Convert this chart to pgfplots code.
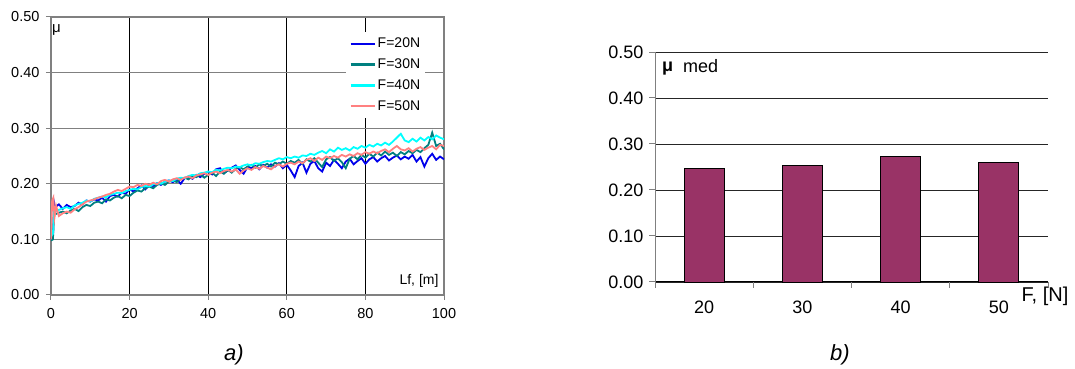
\documentclass[border=0pt]{standalone}
\usepackage{pgfplots}
\pgfplotsset{compat=1.18}
\usepackage{pgfplotstable}
\usepackage{fontspec}
\setmainfont{Liberation Sans}
\definecolor{cblue}{RGB}{0,0,235}
\definecolor{cteal}{RGB}{0,128,128}
\definecolor{ccyan}{RGB}{0,255,255}
\definecolor{cpink}{RGB}{255,128,128}
\definecolor{cbar}{RGB}{153,51,102}
\definecolor{cgrid}{RGB}{128,128,128}

\pgfplotstableread{
x y
0 0.100
0.5 0.105
0.8 0.165
1 0.158
2 0.163
3 0.155
4 0.162
5 0.158
6 0.160
7 0.166
8 0.163
9 0.170
10 0.168
11 0.172
12 0.170
13 0.175
14 0.168
15 0.178
16 0.180
17 0.177
18 0.184
19 0.182
20 0.190
21 0.186
22 0.192
23 0.197
24 0.190
25 0.198
26 0.196
27 0.201
28 0.198
29 0.204
30 0.206
31 0.203
32 0.208
33 0.200
34 0.210
35 0.213
36 0.209
37 0.216
38 0.212
39 0.218
40 0.222
41 0.217
42 0.226
43 0.228
44 0.219
45 0.224
46 0.229
47 0.233
48 0.225
49 0.218
50 0.230
51 0.228
52 0.232
53 0.226
54 0.234
55 0.229
56 0.235
57 0.231
58 0.237
59 0.228
60 0.234
61 0.224
62 0.212
63 0.232
64 0.238
65 0.220
66 0.236
67 0.241
68 0.228
69 0.222
70 0.238
71 0.232
72 0.243
73 0.236
74 0.228
75 0.240
76 0.245
77 0.235
78 0.241
79 0.246
80 0.236
81 0.244
82 0.248
83 0.240
84 0.246
85 0.250
86 0.242
87 0.247
88 0.251
89 0.244
90 0.249
91 0.245
92 0.252
93 0.240
94 0.248
95 0.231
96 0.246
97 0.254
98 0.243
99 0.249
100 0.244
}\tblA

\pgfplotstableread{
x y
0 0.098
0.5 0.100
0.8 0.150
1 0.145
2 0.148
3 0.150
4 0.147
5 0.152
6 0.155
7 0.151
8 0.158
9 0.162
10 0.160
11 0.166
12 0.168
13 0.165
14 0.172
15 0.170
16 0.175
17 0.178
18 0.174
19 0.180
20 0.178
21 0.184
22 0.188
23 0.186
24 0.192
25 0.195
26 0.192
27 0.198
28 0.201
29 0.198
30 0.204
31 0.206
32 0.203
33 0.209
34 0.211
35 0.208
36 0.214
37 0.212
38 0.217
39 0.211
40 0.216
41 0.220
42 0.214
43 0.222
44 0.218
45 0.225
46 0.220
47 0.227
48 0.230
49 0.226
50 0.231
51 0.234
52 0.229
53 0.235
54 0.232
55 0.236
56 0.231
57 0.238
58 0.235
59 0.240
60 0.236
61 0.241
62 0.238
63 0.243
64 0.236
65 0.244
66 0.240
67 0.246
68 0.238
69 0.230
70 0.244
71 0.248
72 0.241
73 0.246
74 0.239
75 0.228
76 0.245
77 0.250
78 0.244
79 0.252
80 0.247
81 0.254
82 0.249
83 0.256
84 0.251
85 0.258
86 0.252
87 0.256
88 0.250
89 0.257
90 0.253
91 0.259
92 0.255
93 0.261
94 0.257
95 0.264
96 0.270
97 0.292
98 0.268
99 0.272
100 0.262
}\tblB

\pgfplotstableread{
x y
0 0.105
0.5 0.110
0.8 0.155
1 0.150
2 0.153
3 0.156
4 0.158
5 0.155
6 0.161
7 0.164
8 0.166
9 0.170
10 0.168
11 0.173
12 0.175
13 0.177
14 0.176
15 0.180
16 0.182
17 0.184
18 0.183
19 0.187
20 0.189
21 0.191
22 0.190
23 0.194
24 0.196
25 0.195
26 0.199
27 0.201
28 0.200
29 0.204
30 0.206
31 0.205
32 0.209
33 0.211
34 0.210
35 0.214
36 0.216
37 0.215
38 0.219
39 0.220
40 0.222
41 0.221
42 0.225
43 0.224
44 0.227
45 0.229
46 0.228
47 0.231
48 0.230
49 0.233
50 0.235
51 0.233
52 0.237
53 0.236
54 0.239
55 0.241
56 0.240
57 0.243
58 0.246
59 0.244
60 0.248
61 0.246
62 0.249
63 0.247
64 0.251
65 0.250
66 0.254
67 0.252
68 0.256
69 0.259
70 0.255
71 0.262
72 0.258
73 0.265
74 0.261
75 0.264
76 0.260
77 0.266
78 0.263
79 0.268
80 0.265
81 0.270
82 0.267
83 0.272
84 0.269
85 0.274
86 0.270
87 0.276
88 0.283
89 0.290
90 0.278
91 0.275
92 0.281
93 0.276
94 0.283
95 0.278
96 0.284
97 0.280
98 0.287
99 0.283
100 0.280
}\tblC

\pgfplotstableread{
x y
0 0.100
0.3 0.170
0.6 0.175
0.9 0.140
1.3 0.160
2 0.142
3 0.147
4 0.150
5 0.148
6 0.154
7 0.158
8 0.163
9 0.168
10 0.170
11 0.172
12 0.175
13 0.177
14 0.180
15 0.182
16 0.186
17 0.189
18 0.187
19 0.191
20 0.195
21 0.194
22 0.198
23 0.196
24 0.200
25 0.198
26 0.202
27 0.199
28 0.205
29 0.207
30 0.204
31 0.208
32 0.210
33 0.207
34 0.211
35 0.213
36 0.210
37 0.215
38 0.217
39 0.219
40 0.216
41 0.220
42 0.222
43 0.219
44 0.223
45 0.225
46 0.222
47 0.226
48 0.218
49 0.224
50 0.228
51 0.225
52 0.230
53 0.227
54 0.232
55 0.229
56 0.226
57 0.232
58 0.235
59 0.231
60 0.236
61 0.238
62 0.235
63 0.240
64 0.237
65 0.243
66 0.246
67 0.241
68 0.247
69 0.243
70 0.249
71 0.246
72 0.250
73 0.247
74 0.252
75 0.249
76 0.253
77 0.250
78 0.255
79 0.252
80 0.257
81 0.254
82 0.258
83 0.255
84 0.259
85 0.262
86 0.257
87 0.263
88 0.268
89 0.262
90 0.260
91 0.264
92 0.258
93 0.263
94 0.266
95 0.261
96 0.265
97 0.268
98 0.262
99 0.270
100 0.268
}\tblD

\pgfplotstableread{
x y
0.5 0.246
1.5 0.253
2.5 0.272
3.5 0.259
}\tblBar

\begin{document}
\begin{tikzpicture}
\path[use as bounding box] (0pt,0pt) rectangle (1075pt,369pt);

% ---------- a) ----------
\begin{axis}[
  at={(51pt,74pt)}, anchor=south west,
  scale only axis, width=393pt, height=278pt,
  xmin=0, xmax=100, ymin=0, ymax=0.5,
  xtick={0,20,...,100}, ytick={0,0.1,...,0.5},
  /pgf/number format/assume math mode=true,
  ticklabel style={font=\fontsize{14.5}{16}\selectfont},
  yticklabel style={xshift=-3pt, /pgf/number format/.cd, fixed, fixed zerofill, precision=2},
  xticklabel style={yshift=-5pt},
  tick align=outside, tick pos=left, major tick length=5pt,
  tick style={cgrid, line width=1pt},
  axis line style={cgrid, line width=1.2pt},
  ymajorgrids, xmajorgrids,
  y grid style={cgrid, line width=1.3pt},
  x grid style={black, line width=0.9pt},
  legend style={draw=none, fill=white, at={(0.751,0.946)}, anchor=north west,
    font=\fontsize{14}{16}\selectfont, row sep=5.5pt, inner xsep=3pt, inner ysep=4pt,
    legend cell align=left},
  legend image code/.code={\draw[#1, line width=2.4pt] (0pt,0pt) -- (24pt,0pt);},
  clip=true,
]
\addplot[cblue, line width=1.8pt] table {\tblA};
\addlegendentry{F=20N}
\addplot[cteal, line width=1.8pt] table {\tblB};
\addlegendentry{F=30N}
\addplot[ccyan, line width=1.8pt] table {\tblC};
\addlegendentry{F=40N}
\addplot[cpink, line width=1.8pt] table {\tblD};
\addlegendentry{F=50N}
\end{axis}
\node[font=\fontsize{15}{17}\selectfont, anchor=west, inner sep=0pt] at (52pt,339pt) {μ};
\node[font=\fontsize{14}{16}\selectfont] at (419pt,88pt) {Lf, [m]};
\node[font=\itshape\fontsize{22}{24}\selectfont] at (234pt,14pt) {a)};

% ---------- b) ----------
\begin{axis}[
  at={(655pt,87pt)}, anchor=south west,
  scale only axis, width=393pt, height=230pt,
  xmin=0, xmax=4, ymin=0, ymax=0.5,
  axis x line=bottom, axis y line=left,
  axis line style={-},
  x axis line style={black, line width=1pt},
  y axis line style={cgrid, line width=1pt},
  xtick={0,1,2,3,4}, xticklabels={20,30,40,50},
  x tick label as interval,
  ytick={0,0.1,...,0.5},
  /pgf/number format/assume math mode=true,
  ticklabel style={font=\fontsize{18}{20}\selectfont},
  yticklabel style={xshift=-2pt, /pgf/number format/.cd, fixed, fixed zerofill, precision=2},
  xticklabel style={yshift=-9pt},
  tick align=outside, major tick length=6pt,
  tick style={cgrid, line width=1pt},
  ymajorgrids,
  y grid style={black!85, line width=0.9pt},
  clip=false,
]
\addplot[ybar, bar width=40pt, fill=cbar, draw=black, line width=0.9pt] table {\tblBar};
\end{axis}
\node[font=\bfseries\fontsize{18}{20}\selectfont, anchor=west, inner sep=0pt] at (662pt,300pt) {μ};
\node[font=\fontsize{18}{20}\selectfont, anchor=west, inner sep=0pt] at (683pt,303pt) {med};
\node[font=\fontsize{20}{22}\selectfont] at (1045pt,73pt) {F, [N]};
\node[font=\itshape\fontsize{22}{24}\selectfont] at (840pt,14pt) {b)};
\end{tikzpicture}
\end{document}
